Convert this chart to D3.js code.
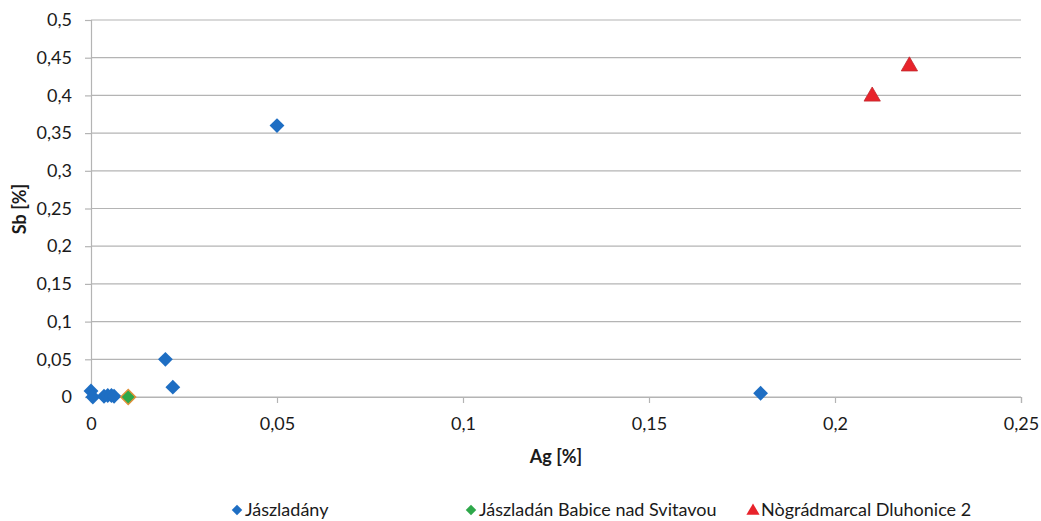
<!DOCTYPE html>
<html><head><meta charset="utf-8">
<script src="https://cdn.jsdelivr.net/npm/d3@7"></script>
<style>body{margin:0;background:#fff}svg{display:block}text{font-family:Lato,"Open Sans",sans-serif}</style>
</head><body>
<svg id="c" width="1041" height="521"></svg>
<script>
const seriesNames = ["Jászladány", "Jászladán Babice nad Svitavou", "Nògrádmarcal Dluhonice 2"];
const jaszX = [0, 0.0005, 0.0035, 0.0045, 0.0055, 0.0062, 0.02, 0.022, 0.05, 0.18];
const jaszY = [0.008, 0.0, 0.001, 0.002, 0.002, 0.001, 0.05, 0.013, 0.36, 0.005];
const babX = [0.01];
const babY = [0.0];
const nogX = [0.21, 0.22];
const nogY = [0.4, 0.44];
const xTicks = [0, 0.05, 0.1, 0.15, 0.2, 0.25];
const yTicks = [0, 0.05, 0.1, 0.15, 0.2, 0.25, 0.3, 0.35, 0.4, 0.45, 0.5];

const svg = d3.select("#c");
const L = 91, R = 1021, T = 20, B = 397;
const x = d3.scaleLinear().domain([0, 0.25]).range([L, R]);
const y = d3.scaleLinear().domain([0, 0.5]).range([B, T]);
const fmt = d => String(+d.toFixed(2)).replace(".", ",");
const FS = 18;

svg.append("g").selectAll("line").data(yTicks).join("line")
  .attr("x1", L).attr("x2", R).attr("y1", d => y(d)).attr("y2", d => y(d))
  .attr("stroke", "#b4b4b4").attr("stroke-width", 1.2);

const xa = svg.append("g").attr("transform", `translate(0,${B})`)
  .call(d3.axisBottom(x).tickValues(xTicks).tickFormat(fmt).tickSize(6).tickPadding(14));
const ya = svg.append("g").attr("transform", `translate(${L},0)`)
  .call(d3.axisLeft(y).tickValues(yTicks).tickFormat(fmt).tickSize(6).tickPadding(13));
[xa, ya].forEach(a => {
  a.select(".domain").attr("stroke", "#b4b4b4").attr("stroke-width", 1.2);
  a.selectAll(".tick line").attr("stroke", "#b4b4b4").attr("stroke-width", 1.2);
  a.selectAll("text").attr("font-size", FS).attr("fill", "#1a1a1a").style("font-family", 'Lato,"Open Sans",sans-serif');
});

svg.append("text").attr("x", (L + R) / 2).attr("y", 463).attr("text-anchor", "middle")
  .attr("font-size", FS).attr("font-weight", "bold").attr("fill", "#1a1a1a").text("Ag [%]");
svg.append("text").attr("transform", "translate(26,209) rotate(-90)").attr("text-anchor", "middle")
  .attr("font-size", FS).attr("font-weight", "bold").attr("fill", "#1a1a1a").text("Sb [%]");

const diamond = d3.symbol().type(d3.symbolDiamond2).size(140);
const tri = d3.symbol().type(d3.symbolTriangle).size(115);

svg.append("g").selectAll("path").data(d3.zip(jaszX, jaszY)).join("path")
  .attr("d", diamond).attr("transform", d => `translate(${x(d[0])},${y(d[1])})`)
  .attr("fill", "#1e6ec3");
svg.append("g").selectAll("path").data(d3.zip(babX, babY)).join("path")
  .attr("d", diamond).attr("transform", d => `translate(${x(d[0])},${y(d[1])})`)
  .attr("fill", "#2ea84a").attr("stroke", "#e0913a").attr("stroke-width", 1.5);
svg.append("g").selectAll("path").data(d3.zip(nogX, nogY)).join("path")
  .attr("d", tri).attr("transform", d => `translate(${x(d[0])},${y(d[1]) + 1})`)
  .attr("fill", "#e8232b").attr("stroke", "#c0282d").attr("stroke-width", 0.8);

const leg = [
  {name: seriesNames[0], sx: 237, tri: false, fill: "#1e6ec3"},
  {name: seriesNames[1], sx: 471, tri: false, fill: "#2ea84a"},
  {name: seriesNames[2], sx: 753, tri: true, fill: "#e8232b"}
];
const lg = svg.append("g");
leg.forEach(l => {
  lg.append("path").attr("d", d3.symbol().type(l.tri ? d3.symbolTriangle : d3.symbolDiamond2).size(l.tri ? 75 : 70))
    .attr("transform", `translate(${l.sx},${l.tri ? 511 : 510})`).attr("fill", l.fill);
  lg.append("text").attr("x", l.sx + 8).attr("y", 516).attr("font-size", FS).attr("fill", "#1a1a1a").text(l.name);
});
</script>
</body></html>
